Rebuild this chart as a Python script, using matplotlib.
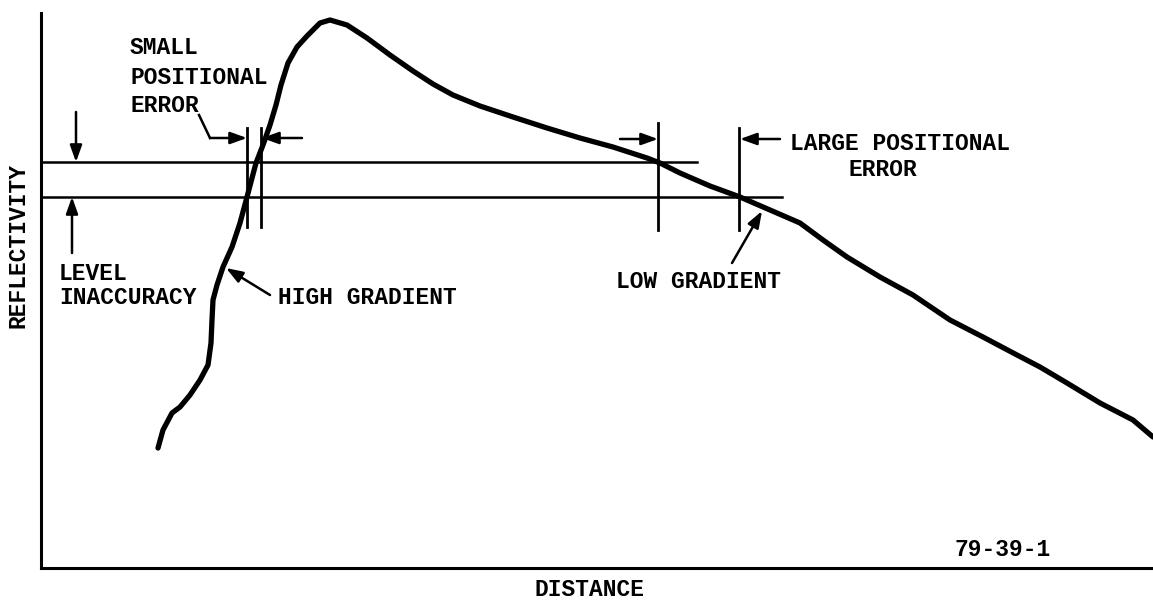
import matplotlib
matplotlib.use("Agg")
import matplotlib.pyplot as plt

# Curve (distance, reflectivity)
distance = [117,122,131,139,149,159,167,170,171,172,176,182,191,199,206,215,222,229,235,240,247,256,266,279,289,306,326,349,372,392,412,439,472,506,539,572,606,619,639,669,699,729,759,782,806,839,872,909,942,976,999,1026,1059,1092,1112]
reflectivity = [120,138,155,161,173,188,203,225,248,268,283,301,321,345,371,405,423,443,463,483,505,521,532,545,548,543,530,513,497,484,473,462,451,440,430,421,410,405,395,382,371,358,345,328,311,291,273,248,231,213,201,185,165,148,131]

# Threshold levels
level_upper = 406
level_lower = 371
level_upper_end = 656
level_lower_end = 741

# Positional error markers (x, y_bottom, y_top)
small_markers = [(206, 341, 440), (220, 341, 440)]
large_markers = [(617, 338, 445), (698, 338, 440)]

FONT = "Liberation Mono"
FS = 16.5

fig = plt.figure(figsize=(11.53, 6.05), dpi=100)
ax = fig.add_axes([41/1153, 37/605, 1112/1153, 555/605])
ax.set_xlim(0, 1112)
ax.set_ylim(0, 555)
for s in ("top", "right"):
    ax.spines[s].set_visible(False)
for s in ("left", "bottom"):
    ax.spines[s].set_linewidth(2.2)
ax.set_xticks([])
ax.set_yticks([])

ax.plot(distance, reflectivity, color="black", lw=3.8, solid_capstyle="round", solid_joinstyle="round", clip_on=False)

ax.plot([0, level_upper_end], [level_upper, level_upper], color="black", lw=1.8)
ax.plot([0, level_lower_end], [level_lower, level_lower], color="black", lw=1.8)

for x, y0, y1 in small_markers + large_markers:
    ax.plot([x, x], [y0, y1], color="black", lw=2.0)

ap = dict(arrowstyle="-|>,head_length=0.5,head_width=0.18", color="black", lw=1.8,
          mutation_scale=20, shrinkA=0, shrinkB=0)

# small positional error leader
ax.plot([158, 169], [453, 430], color="black", lw=1.8)
ax.annotate("", xy=(206, 430), xytext=(169, 430), arrowprops=ap)
ax.annotate("", xy=(221, 430), xytext=(261, 430), arrowprops=ap)
# large positional error
ax.annotate("", xy=(617, 429), xytext=(579, 429), arrowprops=ap)
ax.annotate("", xy=(699, 429), xytext=(739, 429), arrowprops=ap)
# level inaccuracy
ax.annotate("", xy=(35, 406), xytext=(35, 456), arrowprops=ap)
ax.annotate("", xy=(31, 371), xytext=(31, 315), arrowprops=ap)
# gradients
ax.annotate("", xy=(185, 300), xytext=(229, 273), arrowprops=ap)
ax.annotate("", xy=(721, 357), xytext=(691, 305), arrowprops=ap)

tk = dict(family=FONT, fontsize=FS, fontweight="bold", color="black", va="center", ha="left")
ax.text(89, 520, "SMALL", **tk)
ax.text(89, 491, "POSITIONAL", **tk)
ax.text(89, 463, "ERROR", **tk)
ax.text(18, 295, "LEVEL", **tk)
ax.text(18, 270, "INACCURACY", **tk)
ax.text(237, 270, "HIGH GRADIENT", **tk)
ax.text(575, 286, "LOW GRADIENT", **tk)
ax.text(749, 425, "LARGE POSITIONAL", **tk)
ax.text(807, 398, "ERROR", **tk)
ax.text(914, 18, "79-39-1", **tk)
ax.text(549, -22, "DISTANCE", family=FONT, fontsize=FS, fontweight="bold", ha="center", va="center", clip_on=False)
ax.text(-23, 323, "REFLECTIVITY", family=FONT, fontsize=FS, fontweight="bold", ha="center", va="center", rotation=90, clip_on=False)

fig.savefig("out.png", dpi=100)
